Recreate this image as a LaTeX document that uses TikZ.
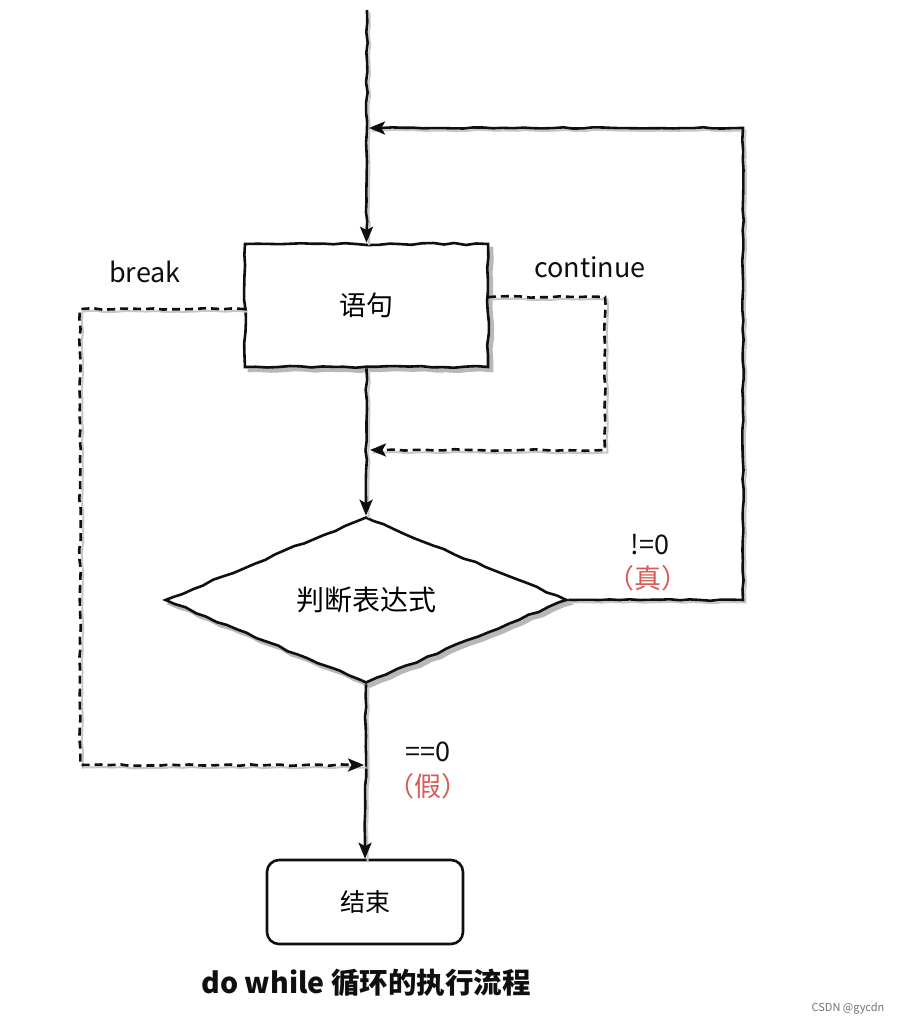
\documentclass[tikz,border=0pt]{standalone}
\usepackage{fontspec}
\setmainfont{Noto Sans CJK SC}
\usetikzlibrary{arrows.meta,shapes.geometric,decorations.pathmorphing}
\definecolor{txtred}{RGB}{214,92,84}
\definecolor{ink}{RGB}{15,15,15}
\tikzset{
  sketch/.style={decorate,decoration={random steps,segment length=10pt,amplitude=0.8pt,pre length=2pt,post length=12pt}},
  nodesketch/.style={decorate,decoration={random steps,segment length=11pt,amplitude=1pt}},
  conn/.style={draw=ink,line width=2.6pt,sketch,
    preaction={draw=black!22,line width=2pt,-,transform canvas={xshift=2.5pt,yshift=-2.5pt}}},
  dconn/.style={conn,dash pattern=on 8pt off 5pt},
  tip/.style={-{Stealth[length=16pt,width=13pt,inset=3.5pt]}},
  lbl/.style={font=\fontsize{27}{30}\selectfont,text=ink,inner sep=0pt},
  rlbl/.style={font=\fontsize{27}{30}\selectfont,text=txtred,inner sep=0pt},
  shadowed/.style={preaction={fill=black!28,draw=black!28,transform canvas={xshift=4pt,yshift=-4pt}}},
  stmt/.style={draw=ink,line width=2.6pt,fill=white,nodesketch,shadowed,
    minimum width=243pt,minimum height=123pt,inner sep=0pt,font=\fontsize{27}{30}\selectfont},
  cond/.style={diamond,draw=ink,line width=2.6pt,fill=white,nodesketch,shadowed,
    minimum width=402pt,minimum height=166pt,inner sep=0pt,font=\fontsize{28}{32}\selectfont},
  endbox/.style={draw=ink,line width=2.6pt,fill=white,rounded corners=12pt,
    minimum width=196pt,minimum height=84pt,inner sep=0pt,font=\fontsize{25}{28}\selectfont},
}
\begin{document}
\begin{tikzpicture}[x=1pt,y=-1pt]
\pgfmathsetseed{7}
\useasboundingbox[fill=white] (0,0) rectangle (902,1025);

% coordinates
\coordinate (start) at (367,10);
\coordinate (jt) at (369,128);
\coordinate (tr1) at (743,600);
\coordinate (tr2) at (743,128);
\coordinate (c0) at (488,297);
\coordinate (c1) at (605,297);
\coordinate (c2) at (605,450);
\coordinate (jc) at (370,450);
\coordinate (b0) at (245,309);
\coordinate (b1) at (80,309);
\coordinate (b2) at (80,765);
\coordinate (jb) at (364,765);

% nodes
\node[stmt] (stmt) at (366.5,305.5) {语句};
\node[cond] (cond) at (366,600) {判断表达式};
\node[endbox] (end) at (365,902) {结束};

% connectors
\draw[conn,tip] (start) -- (stmt.north);
\draw[conn,tip] (stmt.south) -- (cond.north);
\draw[conn,tip] (cond.south) -- (end.north);
\draw[conn,tip] (cond.east) -- (tr1) -- (tr2) -- (jt);
\draw[dconn,tip] (c0) -- (c1) -- (c2) -- (jc);
\draw[dconn,tip] (b0) -- (b1) -- (b2) -- (jb);

% labels
\node[lbl] (lbreak) at (145,272) {break};
\node[lbl] (lcont) at (590,267) {continue};
\node[lbl] (ltrue) at (650,545) {!=0};
\node[rlbl] (ltrue2) at (648,578) {（真）};
\node[lbl] (lfalse) at (428,752) {==0};
\node[rlbl] (lfalse2) at (428,786) {（假）};
\node[font=\bfseries\fontsize{28.5}{32}\selectfont,text=ink,inner sep=0pt] (caption) at (366,983) {do while 循环的执行流程};
\node[font=\fontsize{11}{13}\selectfont,text=black!55,inner sep=0pt] (csdn) at (848,1008) {CSDN @gycdn};
\end{tikzpicture}
\end{document}
